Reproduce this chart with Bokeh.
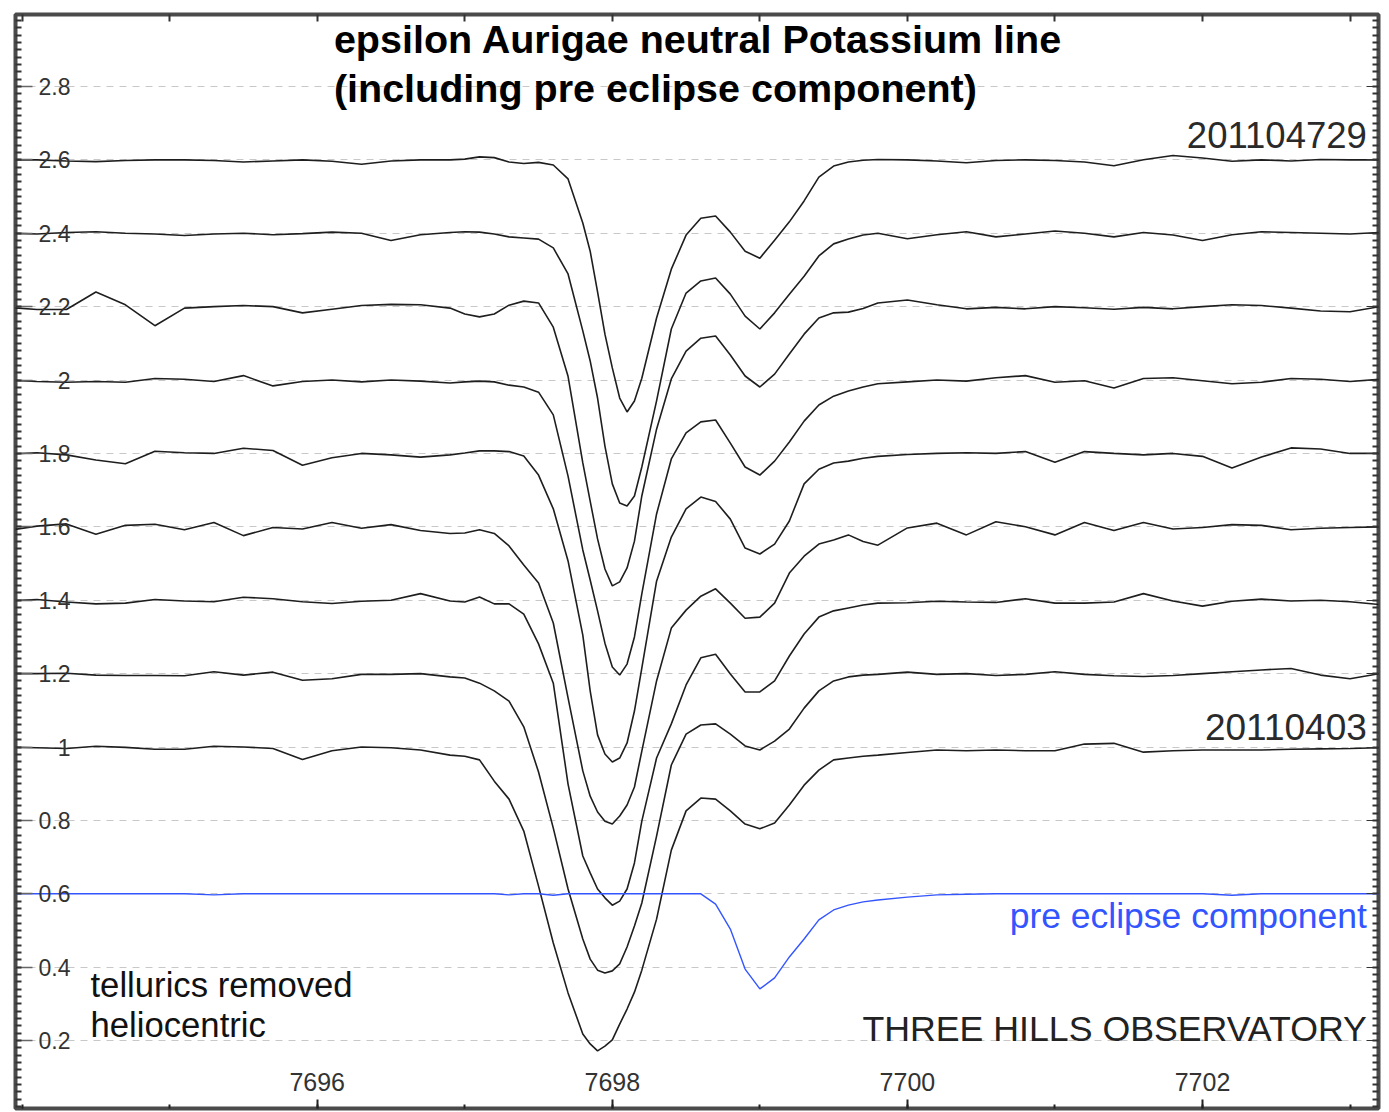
from bokeh.plotting import figure
from bokeh.models import (Range1d, LinearAxis, FixedTicker, NumeralTickFormatter,
                          CustomJSTickFormatter, Label)
from bokeh.embed import file_html
from bokeh.resources import INLINE

# Wavelength samples (Angstrom): coarse in the continuum, fine across the K I line
wavelength = [
    7693.9, 7694.1, 7694.3, 7694.5, 7694.7, 7694.9, 7695.1, 7695.3,
    7695.5, 7695.7, 7695.9, 7696.1, 7696.3, 7696.5, 7696.7, 7696.9,
    7697.0, 7697.1, 7697.2, 7697.3, 7697.4, 7697.5, 7697.6, 7697.7, 7697.8,
    7697.85, 7697.9, 7697.95, 7698.0, 7698.05, 7698.1, 7698.15, 7698.2,
    7698.3, 7698.4, 7698.5, 7698.6, 7698.7, 7698.8, 7698.9, 7699.0,
    7699.1, 7699.2, 7699.3, 7699.4, 7699.5, 7699.6, 7699.7, 7699.8,
    7700.0, 7700.2, 7700.4, 7700.6, 7700.8, 7701.0, 7701.2, 7701.4, 7701.6,
    7701.8, 7702.0, 7702.2, 7702.4, 7702.6, 7702.8, 7703.0, 7703.2, 7703.4,
]

# Offset spectra, newest (top) to oldest (bottom)
flux_1 = [
    2.600, 2.600, 2.597, 2.595, 2.598, 2.600, 2.600, 2.598, 2.594, 2.597, 2.600, 2.596, 2.588, 2.597, 2.600, 2.600,
    2.602, 2.608, 2.606, 2.594, 2.590, 2.593, 2.586, 2.548, 2.428, 2.351, 2.240, 2.125, 2.033, 1.951, 1.913, 1.943, 2.005,
    2.169, 2.302, 2.395, 2.441, 2.447, 2.403, 2.351, 2.332, 2.381, 2.431, 2.488, 2.553, 2.583, 2.594, 2.599, 2.601,
    2.600, 2.597, 2.592, 2.598, 2.600, 2.598, 2.594, 2.584, 2.600, 2.612, 2.605, 2.596, 2.600, 2.597, 2.601, 2.600, 2.600, 2.600,
]
flux_2 = [
    2.400, 2.398, 2.402, 2.404, 2.400, 2.398, 2.394, 2.398, 2.400, 2.396, 2.399, 2.403, 2.400, 2.380, 2.396, 2.402,
    2.404, 2.403, 2.398, 2.390, 2.387, 2.384, 2.360, 2.289, 2.134, 2.052, 1.951, 1.820, 1.717, 1.665, 1.657, 1.684, 1.763,
    1.943, 2.139, 2.237, 2.270, 2.278, 2.234, 2.174, 2.139, 2.183, 2.234, 2.283, 2.338, 2.371, 2.384, 2.395, 2.400,
    2.385, 2.396, 2.404, 2.390, 2.398, 2.406, 2.400, 2.390, 2.402, 2.395, 2.380, 2.396, 2.404, 2.402, 2.400, 2.398, 2.402, 2.402,
]
flux_3 = [
    2.198, 2.192, 2.192, 2.240, 2.205, 2.148, 2.196, 2.200, 2.203, 2.200, 2.183, 2.193, 2.203, 2.206, 2.205, 2.196,
    2.180, 2.172, 2.180, 2.204, 2.215, 2.210, 2.144, 2.010, 1.774, 1.670, 1.567, 1.485, 1.439, 1.450, 1.488, 1.561, 1.684,
    1.866, 2.003, 2.079, 2.114, 2.120, 2.068, 2.011, 1.981, 2.016, 2.071, 2.125, 2.169, 2.183, 2.185, 2.195, 2.210,
    2.218, 2.205, 2.194, 2.198, 2.194, 2.200, 2.197, 2.193, 2.198, 2.194, 2.200, 2.205, 2.203, 2.196, 2.188, 2.186, 2.200, 2.204,
]
flux_4 = [
    2.000, 1.996, 1.994, 1.996, 1.994, 2.004, 2.002, 1.996, 2.012, 1.984, 1.996, 2.000, 1.995, 2.000, 1.997, 1.992,
    1.995, 1.997, 1.995, 1.986, 1.981, 1.967, 1.905, 1.738, 1.537, 1.455, 1.371, 1.283, 1.218, 1.196, 1.226, 1.300, 1.417,
    1.635, 1.785, 1.856, 1.886, 1.891, 1.828, 1.763, 1.741, 1.779, 1.831, 1.888, 1.932, 1.956, 1.970, 1.981, 1.990,
    1.995, 2.000, 1.997, 2.006, 2.012, 1.994, 1.998, 1.978, 2.004, 2.006, 1.998, 1.990, 1.994, 2.004, 2.002, 1.996, 2.002, 2.002,
]
flux_5 = [
    1.798, 1.802, 1.796, 1.782, 1.772, 1.806, 1.802, 1.800, 1.814, 1.808, 1.768, 1.788, 1.800, 1.796, 1.790, 1.796,
    1.801, 1.807, 1.807, 1.805, 1.793, 1.741, 1.649, 1.507, 1.305, 1.153, 1.033, 0.981, 0.959, 0.970, 1.011, 1.098, 1.215,
    1.452, 1.572, 1.649, 1.681, 1.669, 1.621, 1.542, 1.526, 1.553, 1.616, 1.717, 1.757, 1.774, 1.779, 1.787, 1.792,
    1.797, 1.800, 1.802, 1.800, 1.805, 1.776, 1.805, 1.800, 1.796, 1.800, 1.792, 1.760, 1.790, 1.815, 1.812, 1.800, 1.800, 1.800,
]
flux_6 = [
    1.590, 1.602, 1.608, 1.580, 1.604, 1.607, 1.592, 1.612, 1.576, 1.598, 1.594, 1.612, 1.596, 1.606, 1.590, 1.582,
    1.583, 1.592, 1.582, 1.548, 1.496, 1.447, 1.338, 1.134, 0.935, 0.866, 0.823, 0.798, 0.790, 0.812, 0.842, 0.891, 0.989,
    1.180, 1.324, 1.373, 1.411, 1.431, 1.392, 1.351, 1.354, 1.392, 1.474, 1.520, 1.553, 1.564, 1.578, 1.560, 1.550,
    1.597, 1.610, 1.578, 1.614, 1.600, 1.578, 1.612, 1.590, 1.612, 1.594, 1.598, 1.606, 1.604, 1.592, 1.596, 1.598, 1.600, 1.600,
]
flux_7 = [
    1.398, 1.402, 1.395, 1.390, 1.392, 1.402, 1.398, 1.396, 1.408, 1.404, 1.396, 1.391, 1.397, 1.400, 1.418, 1.398,
    1.395, 1.409, 1.390, 1.390, 1.362, 1.281, 1.174, 0.899, 0.703, 0.657, 0.613, 0.589, 0.569, 0.580, 0.613, 0.684, 0.798,
    0.970, 1.063, 1.169, 1.243, 1.253, 1.199, 1.150, 1.150, 1.180, 1.248, 1.308, 1.354, 1.371, 1.379, 1.387, 1.392,
    1.393, 1.397, 1.395, 1.394, 1.404, 1.392, 1.392, 1.395, 1.418, 1.398, 1.384, 1.397, 1.403, 1.398, 1.400, 1.396, 1.388, 1.388,
]
flux_8 = [
    1.200, 1.200, 1.201, 1.196, 1.195, 1.195, 1.194, 1.205, 1.196, 1.204, 1.182, 1.186, 1.198, 1.198, 1.200, 1.191,
    1.188, 1.174, 1.153, 1.125, 1.055, 0.932, 0.779, 0.613, 0.477, 0.422, 0.392, 0.384, 0.390, 0.409, 0.455, 0.512, 0.575,
    0.757, 0.951, 1.035, 1.060, 1.063, 1.035, 1.003, 0.992, 1.016, 1.049, 1.106, 1.153, 1.180, 1.191, 1.196, 1.198,
    1.204, 1.198, 1.200, 1.195, 1.198, 1.205, 1.198, 1.194, 1.192, 1.195, 1.200, 1.205, 1.210, 1.214, 1.196, 1.186, 1.200, 1.202,
]
flux_9 = [
    1.000, 0.998, 0.996, 1.002, 0.999, 0.994, 0.994, 1.002, 1.000, 0.996, 0.966, 0.990, 1.000, 0.998, 0.992, 0.978,
    0.975, 0.965, 0.907, 0.858, 0.771, 0.621, 0.466, 0.330, 0.218, 0.191, 0.172, 0.185, 0.202, 0.245, 0.286, 0.332, 0.392,
    0.531, 0.719, 0.826, 0.861, 0.858, 0.826, 0.790, 0.777, 0.793, 0.842, 0.896, 0.937, 0.965, 0.970, 0.975, 0.978,
    0.985, 0.992, 0.990, 0.992, 0.990, 0.990, 1.008, 1.010, 0.986, 0.990, 0.992, 0.992, 0.992, 0.994, 0.995, 0.996, 0.998, 1.000,
]
# Pre-eclipse (out of eclipse) component
flux_pre = [
    0.600, 0.600, 0.600, 0.600, 0.600, 0.600, 0.600, 0.597, 0.600, 0.600, 0.600, 0.600, 0.600, 0.600, 0.600, 0.600,
    0.600, 0.600, 0.600, 0.597, 0.600, 0.600, 0.596, 0.600, 0.600, 0.600, 0.600, 0.600, 0.600, 0.600, 0.600, 0.600, 0.600,
    0.600, 0.600, 0.600, 0.600, 0.572, 0.504, 0.395, 0.341, 0.371, 0.428, 0.477, 0.529, 0.556, 0.569, 0.578, 0.583,
    0.591, 0.597, 0.599, 0.600, 0.600, 0.600, 0.600, 0.600, 0.600, 0.600, 0.600, 0.596, 0.600, 0.600, 0.600, 0.600, 0.600, 0.600,
]

y_ticks = [0.2, 0.4, 0.6, 0.8, 1.0, 1.2, 1.4, 1.6, 1.8, 2.0, 2.2, 2.4, 2.6, 2.8]
x_ticks = [7696, 7698, 7700, 7702]

FONT = "Liberation Sans"

p = figure(width=1389, height=1112,
           x_range=Range1d(7693.955, 7703.193), y_range=Range1d(0.015, 2.996),
           output_backend="svg", toolbar_location=None,
           min_border_left=15, min_border_right=11, min_border_top=14, min_border_bottom=4)
p.background_fill_color = "white"
p.border_fill_color = "white"
p.outline_line_color = "#4a4a4a"
p.outline_line_width = 4
p.xgrid.visible = False
p.ygrid.grid_line_color = "#c8c8c8"
p.ygrid.grid_line_dash = "7 6"
p.ygrid.grid_line_width = 1

y_minor = [round(0.02 * i, 2) for i in range(0, 150)]

# bottom axis: labels sit inside the frame
xa = p.xaxis[0]
xa.ticker = FixedTicker(ticks=x_ticks, minor_ticks=list(range(7694, 7704)))
xa.formatter = NumeralTickFormatter(format="0")
xa.axis_line_color = None
xa.major_tick_in = 9
xa.major_tick_out = 0
xa.minor_tick_in = 4
xa.minor_tick_out = 0
xa.major_tick_line_color = "#222222"
xa.major_tick_line_width = 2
xa.minor_tick_line_color = "#222222"
xa.minor_tick_line_width = 2
xa.major_label_standoff = -36
xa.major_label_text_font = FONT
xa.major_label_text_font_size = "25px"
xa.major_label_text_color = "#333333"

# left axis: dense ruler ticks, labels inside the frame
ya = p.yaxis[0]
ya.ticker = FixedTicker(ticks=y_ticks, minor_ticks=y_minor)
ya.formatter = NumeralTickFormatter(format="0.[0]")
ya.axis_line_color = None
ya.major_tick_in = 17
ya.major_tick_out = 0
ya.minor_tick_in = 6
ya.minor_tick_out = 0
ya.major_tick_line_color = "#666666"
ya.major_tick_line_width = 1.5
ya.minor_tick_line_color = "#333333"
ya.minor_tick_line_width = 2
ya.major_label_standoff = -55
ya.major_label_text_font = FONT
ya.major_label_text_font_size = "23px"
ya.major_label_text_color = "#333333"

blank = CustomJSTickFormatter(code="return ''")

ra = LinearAxis(ticker=FixedTicker(ticks=y_ticks, minor_ticks=y_minor), formatter=blank)
ra.axis_line_color = None
ra.major_tick_in = 12
ra.major_tick_out = 0
ra.minor_tick_in = 6
ra.minor_tick_out = 0
ra.major_tick_line_color = "#333333"
ra.minor_tick_line_color = "#333333"
ra.minor_tick_line_width = 2
ra.major_label_standoff = 0
ra.major_label_text_font_size = "1px"
p.add_layout(ra, "right")

ta = LinearAxis(ticker=FixedTicker(ticks=list(range(7694, 7704))), formatter=blank)
ta.axis_line_color = None
ta.major_tick_in = 7
ta.major_tick_out = 0
ta.major_tick_line_color = "#333333"
ta.major_tick_line_width = 2
ta.major_label_standoff = 0
ta.major_label_text_font_size = "1px"
p.add_layout(ta, "above")

for flux in [flux_1, flux_2, flux_3, flux_4, flux_5, flux_6, flux_7, flux_8, flux_9]:
    p.line(wavelength, flux, line_color="#1e1e1e", line_width=1.6)
p.line(wavelength, flux_pre, line_color="#3355ff", line_width=1.4)


def note(text, x, y, size, color="#222222", align="left", bold=False):
    p.add_layout(Label(x=x, y=y, text=text, text_font=FONT, text_font_size=size,
                       text_color=color, text_align=align, text_baseline="alphabetic",
                       text_font_style="bold" if bold else "normal"))


note("epsilon Aurigae  neutral Potassium line", 7696.113, 2.929, "39.5px", "#000000", bold=True)
note("(including pre eclipse component)", 7696.113, 2.796, "39.5px", "#000000", bold=True)
note("201104729", 7703.114, 2.668, "36.5px", "#2a2a2a", "right")
note("20110403", 7703.114, 1.055, "37px", "#2a2a2a", "right")
note("pre eclipse component", 7703.114, 0.540, "35.5px", "#3355ff", "right")
note("THREE HILLS OBSERVATORY", 7703.114, 0.232, "35.7px", "#222222", "right")
note("tellurics removed", 7694.463, 0.352, "34.7px", "#111111")
note("heliocentric", 7694.463, 0.243, "34.7px", "#111111")

open("out.html", "w").write(file_html(p, INLINE))
